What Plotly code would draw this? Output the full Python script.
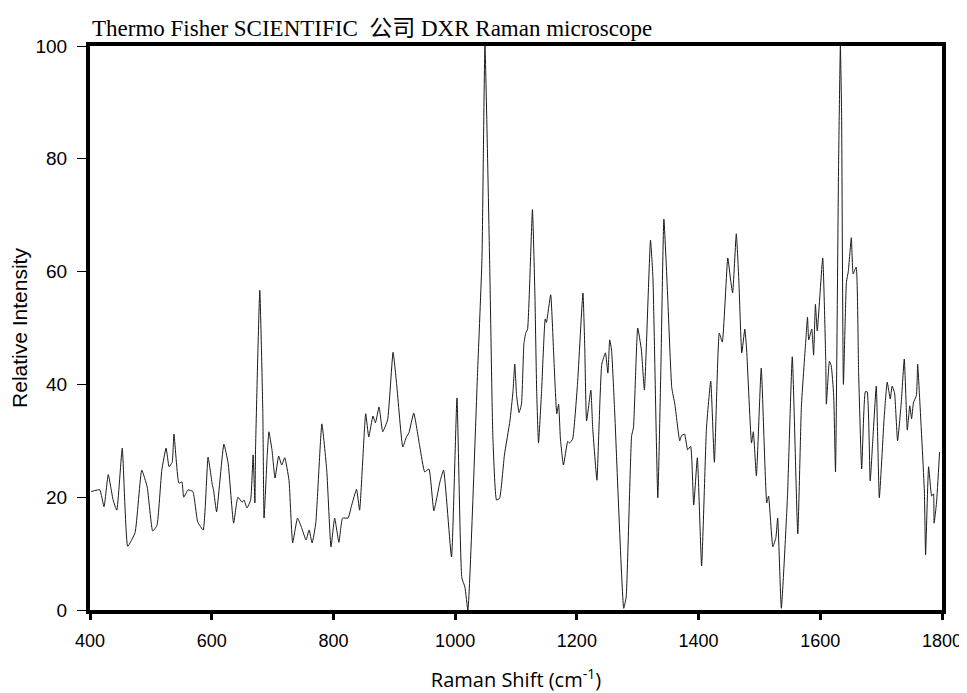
import plotly.graph_objects as go

# Raman spectrum
raman_shift = [402, 416, 423, 430, 438, 444, 453, 462, 474, 485, 494, 503, 510, 518, 525, 530, 535, 538,
               546, 551, 554, 561, 569, 577, 586, 594, 601, 603, 608, 620, 627, 636, 643, 650, 653, 658,
               664, 668, 671, 672, 679, 684, 686, 691, 694, 699, 704, 710, 715, 720, 727, 733, 741, 748,
               755, 760, 765, 771, 781, 789, 796, 802, 809, 815, 824, 830, 838, 843, 853, 858, 865, 869,
               875, 881, 889, 898, 904, 914, 920, 924, 932, 942, 950, 957, 965, 975, 981, 994, 1003, 1011,
               1016, 1021, 1037, 1044, 1049, 1057, 1062, 1068, 1073, 1081, 1090, 1095, 1098, 1101, 1105,
               1109, 1113, 1116, 1119, 1127, 1131, 1134, 1137, 1142, 1148, 1150, 1157, 1162, 1167, 1170,
               1173, 1178, 1185, 1188, 1193, 1201, 1210, 1213, 1216, 1223, 1226, 1233, 1236, 1241, 1247,
               1251, 1254, 1257, 1262, 1277, 1281, 1290, 1293, 1300, 1306, 1311, 1321, 1325, 1333, 1338,
               1343, 1349, 1356, 1361, 1369, 1372, 1377, 1382, 1387, 1392, 1398, 1405, 1413, 1420, 1426,
               1434, 1439, 1448, 1453, 1456, 1462, 1466, 1471, 1476, 1479, 1487, 1490, 1495, 1503, 1512,
               1515, 1522, 1527, 1530, 1536, 1546, 1554, 1563, 1569, 1576, 1579, 1581, 1586, 1589, 1592,
               1595, 1604, 1609, 1610, 1615, 1618, 1622, 1625, 1630, 1633, 1635, 1638, 1643, 1646, 1651,
               1654, 1659, 1663, 1668, 1674, 1677, 1682, 1686, 1692, 1697, 1705, 1710, 1715, 1718, 1722,
               1727, 1733, 1738, 1743, 1747, 1750, 1753, 1758, 1760, 1763, 1771, 1773, 1778, 1783, 1786,
               1787, 1791, 1796]
intensity = [21, 21.3, 18.3, 24, 19.5, 17.7, 28.7, 11.3, 13.7, 24.8, 21.8, 14, 15, 24.8, 28.7, 25.4, 26.2, 31.2,
             22.5, 22.7, 20, 21.3, 21, 15.6, 14.2, 27.1, 22.2, 21.3, 17.4, 29.4, 26, 15.4, 20, 19.1, 19.5, 18.1,
             19.5, 27.5, 19, 28.4, 56.7, 35, 16.3, 27, 31.6, 28.4, 23.4, 27.3, 25.7, 27, 23, 11.9, 16.3, 14.5,
             12.4, 14.2, 11.9, 15.4, 33, 24.8, 11.2, 16.3, 12, 16.3, 16.3, 18.6, 21.4, 17.7, 34.8, 30.7, 34.4, 33.2,
             36, 31.6, 33.7, 45.7, 39.9, 28.9, 30.7, 31.4, 34.9, 28.9, 24.5, 25, 17.6, 22.7, 24.8, 9.4, 37.6, 5.7,
             4.1, 0, 42.6, 62, 100, 60, 30.7, 19.5, 19.8, 27.5, 33.5, 38.7, 43.6, 38, 35,
             36.5, 47.2, 49.1, 49.8, 71, 56.2, 38.7, 29.6, 38.7, 51.6, 51, 55.9, 45.2, 34.8, 36.5,
             30.3, 25.7, 29.9, 29.6, 30.3, 40, 56.2, 46.5, 33.5, 39, 32.3, 23, 31.2, 43.6, 45.6,
             42, 47.9, 46.1, 35.5, 0.3, 2.3, 30.9, 32.3, 50, 46.1, 39, 65.6, 58.9, 19.9, 42.6,
             69.3, 56.2, 39.4, 36.5, 30, 30.9, 31.2, 28.4, 29, 18.6, 27, 7.8, 32.3, 40.6, 26.2,
             49.1, 47.5, 62.4, 58.2, 56.2, 66.7, 58.9, 45.6, 49.8, 46.1, 29.6, 31.6, 23.8, 42.9, 19,
             20.2, 11.2, 12.8, 16.3, 0.3, 19.9, 44.9, 13.5, 36.2, 47.5, 51.9, 47.9, 49.8, 45.2, 54.2,
             49.5, 62.4, 44, 36.5, 44.1, 43.3, 38.1, 24.5, 78.4, 100, 88, 40, 58.2, 60, 66,
             59.6, 60.8, 42, 25, 38.7, 38.7, 22.9, 29.6, 39.7, 19.9, 34.2, 40.4, 37.4, 39.7, 38.5,
             30, 36.7, 44.5, 31.9, 36.2, 33.9, 36.7, 38.1, 43.6, 38.1, 21.1, 9.8, 25.4, 20.2, 20.6,
             15.4, 19, 28]

x_ticks = [400, 600, 800, 1000, 1200, 1400, 1600, 1800]
y_ticks = [0, 20, 40, 60, 80, 100]

fig = go.Figure(go.Scatter(
    x=raman_shift,
    y=intensity,
    mode='lines',
    line=dict(color='#1a1a1a', width=1, shape='spline', smoothing=0.4),
    hoverinfo='x+y',
))

# the page puts the figure 8px in from the corner, so the size is trimmed by that
fig.update_layout(
    width=959,
    height=685,
    margin=dict(l=82, r=25, t=38, b=83),
    paper_bgcolor='white',
    plot_bgcolor='white',
    showlegend=False,
    font=dict(family='Liberation Sans, Arial, sans-serif', color='black'),
)

fig.update_xaxes(
    range=[400, 1800],
    tickvals=x_ticks,
    automargin=False,
    ticks='outside',
    ticklen=6,
    tickwidth=3,
    tickcolor='black',
    ticklabelstandoff=5,
    tickfont=dict(size=18),
    showgrid=False,
    zeroline=False,
    showline=True,
    linewidth=4,
    linecolor='black',
    mirror=True,
    title=dict(text='Raman Shift (cm<sup>-1</sup>)',
               font=dict(family='Open Sans, sans-serif', size=20), standoff=26),
)

fig.update_yaxes(
    range=[0, 100],
    tickvals=y_ticks,
    automargin=False,
    ticks='outside',
    ticklen=9,
    tickwidth=1,
    tickcolor='black',
    ticklabelstandoff=6,
    tickfont=dict(size=19),
    showgrid=False,
    zeroline=False,
    showline=True,
    linewidth=4,
    linecolor='black',
    mirror=True,
    title=dict(text='Relative Intensity', font=dict(size=21), standoff=8),
)

fig.add_annotation(
    text='Thermo Fisher SCIENTIFIC  公司 DXR Raman microscope',
    xref='paper', yref='paper', x=0, y=1,
    xanchor='left', yanchor='bottom', yshift=3,
    showarrow=False,
    font=dict(family='Liberation Serif, Noto Sans CJK SC, serif', size=23, color='black'),
)

fig.write_html("out.html")
